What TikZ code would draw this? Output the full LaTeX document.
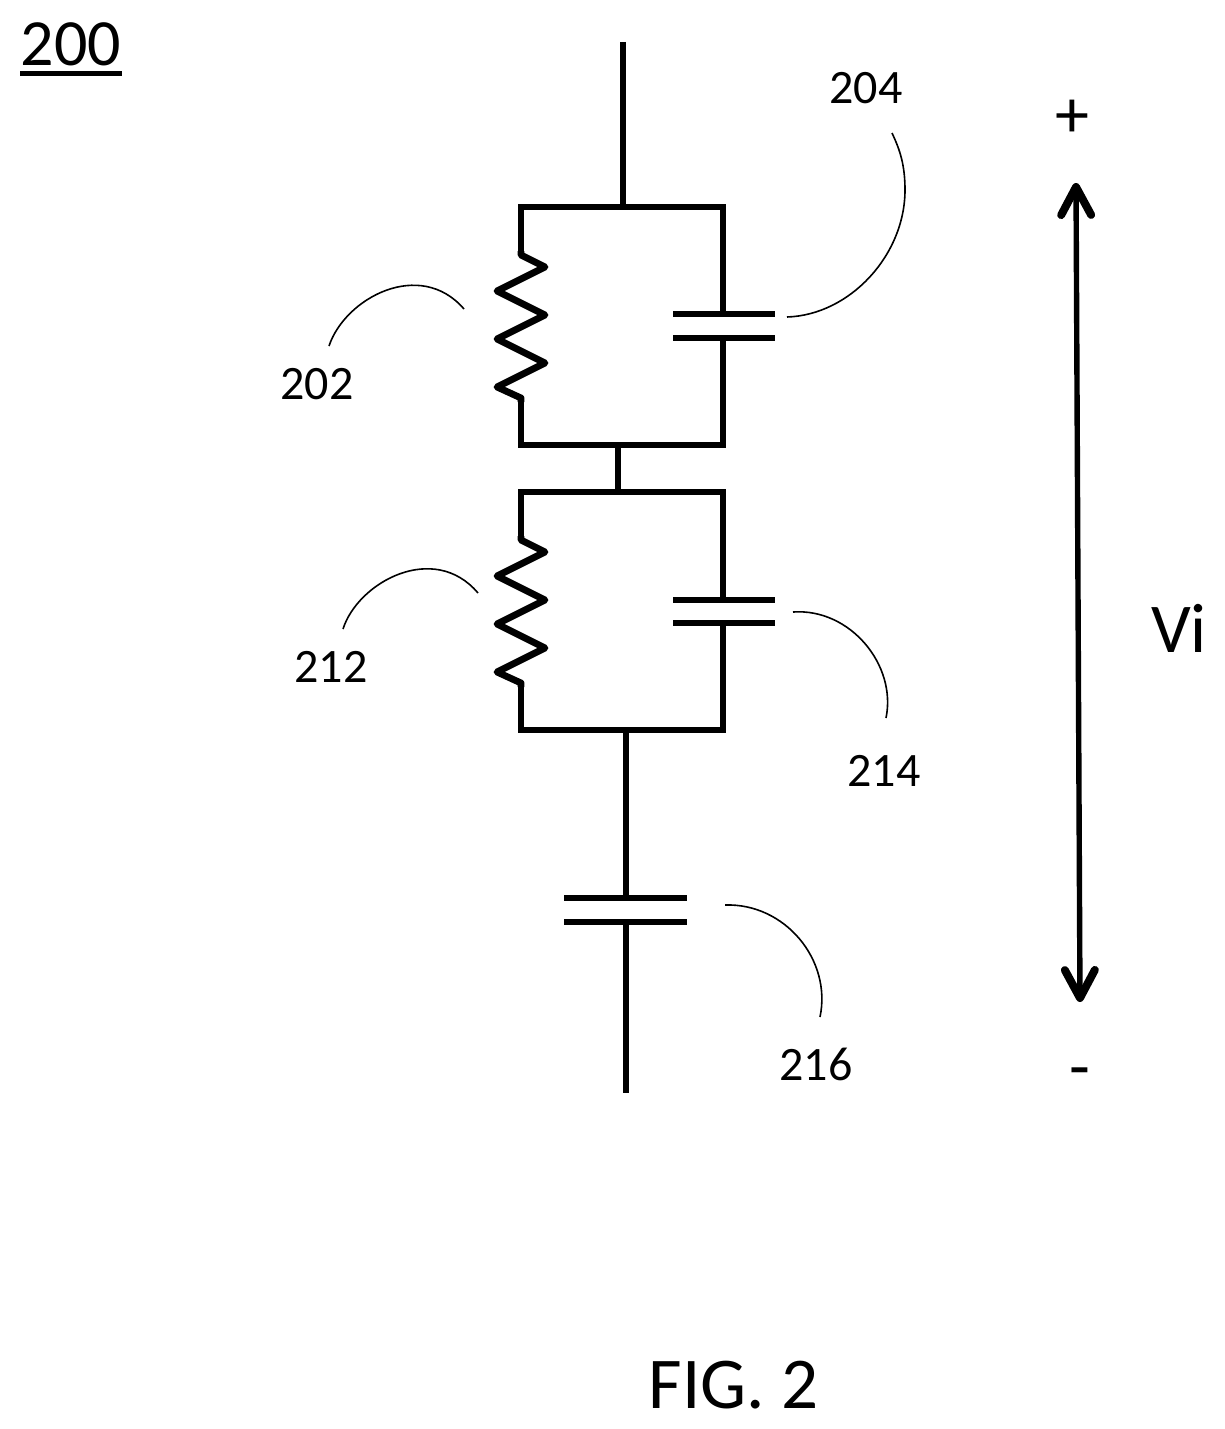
\documentclass[tikz,border=0pt]{standalone}
\usepackage{fontspec}
\setmainfont{Carlito}
\usetikzlibrary{arrows.meta,positioning}

\tikzset{
    wire/.style={line width=3.4pt, line join=miter, line cap=butt},
    zigzag/.style={line width=3.4pt, line join=round},
    plate/.style={line width=3.4pt},
    leader/.style={line width=0.8pt},
    refnum/.style={font=\fontsize{24}{28}\selectfont, inner sep=0pt},
    bignum/.style={font=\fontsize{33}{38}\selectfont, inner sep=0pt},
    signnum/.style={font=\fontsize{34}{38}\selectfont, inner sep=0pt},
    capnum/.style={font=\fontsize{36.5}{42}\selectfont, inner sep=0pt},
    volt/.style={line width=2.7pt, {Straight Barb[round,length=14pt,width=15pt,line width=4pt]}-{Straight Barb[round,length=14pt,width=15pt,line width=4pt]}}
}

\begin{document}
\begin{tikzpicture}[x=0.5pt, y=-0.5pt]
    \useasboundingbox (0,0) rectangle (1225,1429);

    % junctions of the circuit
    \coordinate (top) at (623,42);
    \coordinate (a1) at (623,207);
    \coordinate (tl1) at (521,207);
    \coordinate (tr1) at (723,207);
    \coordinate (zt1) at (521,255);
    \coordinate (zb1) at (521,398);
    \coordinate (bl1) at (521,445);
    \coordinate (br1) at (723,445);
    \coordinate (m1) at (618,445);
    \coordinate (m2) at (618,492);
    \coordinate (tl2) at (521,492);
    \coordinate (tr2) at (723,492);
    \coordinate (zt2) at (521,540);
    \coordinate (zb2) at (521,683);
    \coordinate (bl2) at (521,730);
    \coordinate (br2) at (723,730);
    \coordinate (a2) at (626,730);
    \coordinate (bottom) at (626,1093);

    % capacitor plates
    \coordinate (c1a) at (723,314);
    \coordinate (c1b) at (723,338);
    \coordinate (c2a) at (723,600);
    \coordinate (c2b) at (723,623);
    \coordinate (c3a) at (626,898);
    \coordinate (c3b) at (626,922);

    % outer wires
    \draw[wire] (top) -- (a1);
    \draw[wire] (m1) -- (m2);
    \draw[wire] (a2) -- (c3a);
    \draw[wire] (c3b) -- (bottom);

    % upper pair
    \draw[wire] (c1a) -- (tr1) -- (tl1) -- (zt1);
    \draw[wire] (zb1) -- (bl1) -- (br1) -- (c1b);
    \draw[zigzag] ([yshift=2pt]zt1) -- (zt1) -- ++(24,12) -- ++(-48,24) -- ++(48,24) -- ++(-48,24) -- ++(48,24) -- ++(-48,24) -- (zb1) -- ([yshift=-2pt]zb1);
    \draw[plate] ([xshift=-25pt]c1a) -- ([xshift=26pt]c1a);
    \draw[plate] ([xshift=-25pt]c1b) -- ([xshift=26pt]c1b);

    % lower pair
    \draw[wire] (c2a) -- (tr2) -- (tl2) -- (zt2);
    \draw[wire] (zb2) -- (bl2) -- (br2) -- (c2b);
    \draw[zigzag] ([yshift=2pt]zt2) -- (zt2) -- ++(24,12) -- ++(-48,24) -- ++(48,24) -- ++(-48,24) -- ++(48,24) -- ++(-48,24) -- (zb2) -- ([yshift=-2pt]zb2);
    \draw[plate] ([xshift=-25pt]c2a) -- ([xshift=26pt]c2a);
    \draw[plate] ([xshift=-25pt]c2b) -- ([xshift=26pt]c2b);

    % series capacitor
    \draw[plate] ([xshift=-31pt]c3a) -- ([xshift=30.5pt]c3a);
    \draw[plate] ([xshift=-31pt]c3b) -- ([xshift=30.5pt]c3b);

    % reference numerals
    \node[bignum] (n200) at (71,44) {200};
    \coordinate (ul1) at (20,73.5);
    \coordinate (ul2) at (122,73.5);
    \draw[line width=2.5pt] (ul1) -- (ul2);
    \node[refnum] (n202) at (317,384) {202};
    \node[refnum] (n204) at (866,88) {204};
    \node[refnum] (n212) at (331,667) {212};
    \node[refnum] (n214) at (884,771) {214};
    \node[refnum] (n216) at (816,1064) {216};

    % leader curves
    \coordinate (l202a) at (329,346);
    \coordinate (l202b) at (464,309);
    \coordinate (l204a) at (787,317);
    \coordinate (l204m) at (905,190);
    \coordinate (l204b) at (892,133);
    \coordinate (l212a) at (343,629);
    \coordinate (l212b) at (478,593);
    \coordinate (l214a) at (793,612);
    \coordinate (l214b) at (886,718);
    \coordinate (l216a) at (725,905);
    \coordinate (l216b) at (820,1017);
    \draw[leader] (l202a) .. controls (345,298) and (420,258) .. (l202b);
    \draw[leader] (l204a) .. controls (850,315) and (905,255) .. (l204m) .. controls (905,165) and (900,150) .. (l204b);
    \draw[leader] (l212a) .. controls (358,582) and (434,541) .. (l212b);
    \draw[leader] (l214a) .. controls (850,608) and (897,665) .. (l214b);
    \draw[leader] (l216a) .. controls (785,903) and (832,960) .. (l216b);

    % applied voltage
    \node[signnum] (plus) at (1072,119) {+};
    \node[signnum] (minus) at (1080,1079) {-};
    \node[capnum, font=\fontsize{35}{40}\selectfont] (vi) at (1179,628) {Vi};
    \coordinate (up) at (1076,183);
    \coordinate (down) at (1080,1002);
    \draw[volt] (up) -- (down);

    \node[capnum] (caption) at (733.5,1385) {FIG. 2};
\end{tikzpicture}
\end{document}
